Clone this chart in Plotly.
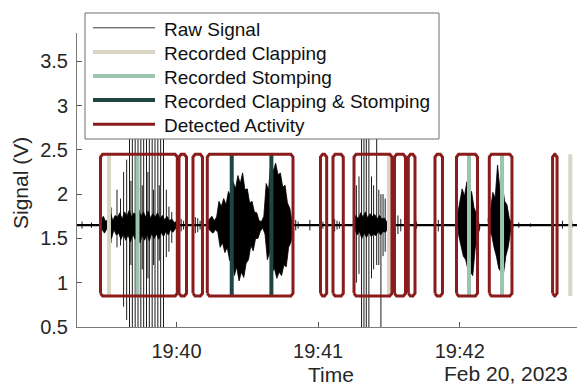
import pandas as pd
import plotly.graph_objects as go

# ---------------- data (seconds relative to 19:40:00 on Feb 20, 2023) ----------------
BASE = pd.Timestamp("2023-02-20 19:40:00")
x_range_s = [-42.14, 169.65]
y_range_v = [0.5, 3.82]
x_tick_s = [0, 60, 120]
x_tick_labels = ["19:40", "19:41", "19:42"]
y_tick_vals = [0.5, 1, 1.5, 2, 2.5, 3, 3.5]
y_tick_labels = ["0.5", "1", "1.5", "2", "2.5", "3", "3.5"]
date_label = "Feb 20, 2023"

baseline_v = 1.65

# detected activity windows
activity_start_s = [-32.19, 1.06, 6.99, 13.05, 61.0, 66.29, 75.19, 92.34, 98.19, 109.5, 118.6, 132.5, 159.3]
activity_end_s = [0.34, 4.24, 11.01, 49.35, 63.62, 70.65, 91.28, 97.0, 101.03, 112.67, 127.5, 142.1, 161.2]
activity_low_v = 0.85
activity_high_v = 2.45

# recorded (ground truth) events
clapping_s = [-28.6, 90.0, 166.8]
stomping_s = [-16.5, 123.9, 137.9]
clap_stomp_s = [23.4, 40.2]

# raw signal: dense envelopes sampled every second (upper / lower values, V)
coreA_start_s = -32
coreA_hi = [1.70, 1.75, 1.69, 1.72, 1.80, 1.70, 1.76, 1.74, 1.79, 1.72, 1.80, 1.75, 1.82, 1.74, 1.79, 1.76, 1.83,
            1.75, 1.80, 1.74, 1.81, 1.73, 1.78, 1.74, 1.79, 1.72, 1.76, 1.71, 1.75, 1.70, 1.72, 1.68, 1.69]
coreA_lo = [1.60, 1.56, 1.61, 1.58, 1.50, 1.60, 1.54, 1.56, 1.49, 1.55, 1.48, 1.54, 1.46, 1.55, 1.49, 1.53, 1.45,
            1.54, 1.48, 1.55, 1.47, 1.56, 1.50, 1.55, 1.49, 1.57, 1.52, 1.58, 1.54, 1.60, 1.57, 1.61, 1.62]

envB_start_s = 13
envB_hi = [1.69, 1.72, 1.75, 1.70, 1.74, 1.92, 1.86, 1.95, 1.88, 2.03, 1.98, 2.14, 2.06, 2.21, 2.12, 2.24, 2.05,
           2.06, 1.90, 1.92, 1.80, 1.79, 1.70, 1.69, 1.75, 2.12, 2.05, 2.38, 2.26, 2.35, 2.22, 2.24, 2.08, 2.10,
           1.90, 1.84, 1.70]
envB_lo = [1.61, 1.58, 1.56, 1.60, 1.57, 1.40, 1.45, 1.34, 1.40, 1.25, 1.33, 1.08, 1.18, 1.02, 1.12, 1.06, 1.22,
           1.26, 1.42, 1.36, 1.50, 1.50, 1.58, 1.62, 1.55, 1.26, 1.35, 1.12, 1.16, 1.05, 1.12, 1.08, 1.20, 1.18,
           1.40, 1.46, 1.60]

coreC_start_s = 75
coreC_hi = [1.70, 1.76, 1.72, 1.79, 1.74, 1.80, 1.73, 1.78, 1.75, 1.77, 1.72, 1.76, 1.72, 1.73, 1.69, 1.70, 1.68]
coreC_lo = [1.60, 1.54, 1.58, 1.50, 1.56, 1.51, 1.57, 1.52, 1.55, 1.53, 1.58, 1.54, 1.58, 1.57, 1.61, 1.60, 1.62]

envD_start_s = 119
envD_hi = [1.76, 1.90, 2.06, 1.98, 2.14, 2.02, 2.03, 1.85, 1.78, 1.68]
envD_lo = [1.54, 1.42, 1.30, 1.26, 1.14, 1.12, 1.08, 1.38, 1.52, 1.62]

envE_start_s = 132
envE_hi = [1.72, 1.82, 2.02, 1.96, 2.33, 2.05, 2.12, 1.92, 1.88, 1.72, 1.68]
envE_lo = [1.58, 1.54, 1.40, 1.30, 1.16, 1.12, 1.10, 1.30, 1.40, 1.58, 1.62]

# raw signal: individual spikes (time, upper, lower)
spike_s = [-27.7, -25.2, -23.7, -22.4, -21.1,
           -19.9, -19.3, -18.7, -17.5, -16.9, -16.3, -15.1, -14.5, -13.9, -12.7, -12.1, -11.5, -10.3, -9.7,
           -9.1, -7.9, -7.3, -6.7, -5.5, -4.3, -3.2, -2.0,
           76.2, 77.3, 78.4, 79.4, 80.4, 81.5, 82.6, 83.5, 84.8, 85.7, 86.6, 87.5, 88.4]
spike_hi = [1.85, 2.05, 1.95, 2.25, 2.39,
            3.3, 2.15, 3.3, 3.3, 2.20, 3.3, 3.3, 2.10, 3.3, 3.3, 2.25, 3.3, 3.3, 2.05,
            3.3, 3.3, 2.10, 3.3, 3.3, 2.05, 1.86, 1.80,
            2.10, 2.20, 3.3, 3.3, 3.3, 3.3, 2.20, 2.10, 3.3, 2.05, 2.00, 2.00, 1.95]
spike_lo = [1.45, 1.40, 1.42, 0.73, 0.58,
            0.2, 1.20, 0.2, 0.2, 1.10, 0.2, 0.2, 1.15, 0.2, 0.2, 1.05, 0.2, 0.2, 1.20,
            0.2, 0.2, 1.25, 0.2, 0.2, 1.29, 1.35, 1.45,
            1.00, 1.10, 0.2, 0.2, 0.2, 0.2, 1.05, 1.15, 1.20, 1.20, 0.2, 1.30, 1.35]

# raw signal: small blips on the baseline (time, upper, lower)
blip_s = [-40.0, -36.0, 2.0, 3.0, 8.0, 9.0, 10.0, 50.5, 51.5, 56.5, 62.0, 67.0, 68.0, 69.0,
          93.8, 95.0, 101.7, 110.9, 145.0, 150.0, 163.5, 167.5]
blip_hi = [1.69, 1.68, 1.72, 1.70, 1.74, 1.73, 1.70, 1.71, 1.69, 1.71, 1.69, 1.72, 1.70, 1.69,
           1.76, 1.72, 1.69, 1.71, 1.68, 1.67, 1.70, 1.69]
blip_lo = [1.61, 1.62, 1.58, 1.60, 1.56, 1.57, 1.60, 1.59, 1.61, 1.59, 1.61, 1.58, 1.60, 1.61,
           1.55, 1.58, 1.61, 1.58, 1.62, 1.63, 1.61, 1.62]

legend_names = ["Raw Signal", "Recorded Clapping", "Recorded Stomping",
                "Recorded Clapping &amp; Stomping", "Detected Activity"]

# ---------------- styles ----------------
FONT = "Liberation Sans, Arial, Helvetica, sans-serif"
TXT = "#262626"
C_RAW = "#000000"
C_CLAP = "#d9d6c6"
C_STOMP = "#9cc4ae"
C_BOTH = "#1f4543"
C_ACT = "#8a1c1c"
legend_colors = ["#3a3a3a", C_CLAP, C_STOMP, C_BOTH, C_ACT]
legend_widths = [1, 4, 4, 4, 3]
CORNER_S = 0.9     # corner softening of activity boxes (style, seconds)
CORNER_V = 0.03    # corner softening of activity boxes (style, volts)

W, H = 577, 385
ML, MR, MT, MB = 77, 0, 33, 58
PW, PH = W - ML - MR, H - MT - MB


def px_x(p):
    return (p - ML) / PW


def px_y(p):
    return (H - MB - p) / PH


def ts(sec):
    return (BASE + pd.Timedelta(seconds=float(sec))).strftime("%Y-%m-%d %H:%M:%S.%f")


def envelope(start, hi, lo, xs, ys):
    """closed outline: upper values forward in time, lower values backward"""
    n = len(hi)
    for i in range(n):
        xs.append(ts(start + i))
        ys.append(hi[i])
    for i in reversed(range(n)):
        xs.append(ts(start + i + 0.5))
        ys.append(lo[i])
    xs.append(ts(start))
    ys.append(hi[0])
    xs.append(None)
    ys.append(None)


def segments(times, hi, lo, xs, ys):
    for t, h, l in zip(times, hi, lo):
        xs += [ts(t), ts(t), None]
        ys += [l, h, None]


env_x, env_y = [], []
envelope(coreA_start_s, coreA_hi, coreA_lo, env_x, env_y)
envelope(envB_start_s, envB_hi, envB_lo, env_x, env_y)
envelope(coreC_start_s, coreC_hi, coreC_lo, env_x, env_y)
envelope(envD_start_s, envD_hi, envD_lo, env_x, env_y)
envelope(envE_start_s, envE_hi, envE_lo, env_x, env_y)

seg_x, seg_y = [], []
segments(spike_s, spike_hi, spike_lo, seg_x, seg_y)
segments(blip_s, blip_hi, blip_lo, seg_x, seg_y)

fig = go.Figure()

# raw signal: baseline, dense envelopes, spikes
fig.add_trace(go.Scatter(
    x=[ts(x_range_s[0] - 2), ts(x_range_s[1] + 5)], y=[baseline_v, baseline_v], mode="lines",
    line=dict(color=C_RAW, width=2.4), name=legend_names[0], legendgroup="raw", showlegend=False,
    hoverinfo="skip"))
fig.add_trace(go.Scatter(
    x=env_x, y=env_y, mode="lines", fill="toself", fillcolor=C_RAW, name=legend_names[0],
    legendgroup="raw", showlegend=False, line=dict(color=C_RAW, width=0.8), hoverinfo="skip"))
fig.add_trace(go.Scatter(
    x=seg_x, y=seg_y, mode="lines", name=legend_names[0], legendgroup="raw", showlegend=False,
    line=dict(color=C_RAW, width=0.9), hoverinfo="skip"))


def marker_trace(times, name, color):
    xs, ys = [], []
    for t in times:
        xs += [ts(t), ts(t), None]
        ys += [activity_low_v, activity_high_v, None]
    return go.Scatter(x=xs, y=ys, mode="lines", name=name, line=dict(color=color, width=4),
                      showlegend=False, hoverinfo="skip")


fig.add_trace(marker_trace(clapping_s, legend_names[1], C_CLAP))
fig.add_trace(marker_trace(stomping_s, legend_names[2], C_STOMP))
fig.add_trace(marker_trace(clap_stomp_s, legend_names[3], C_BOTH))

ax, ay = [], []
lo, hi = activity_low_v, activity_high_v
for s, e in zip(activity_start_s, activity_end_s):
    r = min(CORNER_S, (e - s) / 2)
    ax += [ts(s), ts(s), ts(s + r), ts(e - r), ts(e), ts(e), ts(e - r), ts(s + r), ts(s), None]
    ay += [lo + CORNER_V, hi - CORNER_V, hi, hi, hi - CORNER_V, lo + CORNER_V, lo, lo, lo + CORNER_V, None]
fig.add_trace(go.Scatter(x=ax, y=ay, mode="lines", name=legend_names[4], showlegend=False,
                         line=dict(color=C_ACT, width=3), hoverinfo="skip"))

# ---------------- legend box (drawn above the data, like an opaque legend) ----------------
shapes = [dict(type="rect", xref="paper", yref="paper", layer="above",
               x0=px_x(85), x1=px_x(439), y0=px_y(139), y1=px_y(13),
               fillcolor="white", line=dict(color="#6e6e6e", width=1))]
annotations = []
row_y = [27.8, 51.9, 76.0, 100.1, 124.2]
for name, col, lw, ry in zip(legend_names, legend_colors, legend_widths, row_y):
    shapes.append(dict(type="line", xref="paper", yref="paper", layer="above",
                       x0=px_x(93), x1=px_x(155), y0=px_y(ry), y1=px_y(ry),
                       line=dict(color=col, width=lw)))
    annotations.append(dict(text=name, xref="paper", yref="paper", x=px_x(162), y=px_y(ry + 1.5),
                            xanchor="left", yanchor="middle", showarrow=False,
                            font=dict(family=FONT, size=19, color="#111111")))

annotations += [
    dict(text="Signal (V)", xref="paper", yref="paper", x=px_x(20), y=px_y(183),
         textangle=-90, showarrow=False, font=dict(family=FONT, size=21, color=TXT),
         xanchor="center", yanchor="middle"),
    dict(text="Time", xref="paper", yref="paper", x=px_x(331), y=px_y(374),
         showarrow=False, font=dict(family=FONT, size=21, color=TXT),
         xanchor="center", yanchor="middle"),
    dict(text=date_label, xref="paper", yref="paper", x=px_x(505.5), y=px_y(373),
         showarrow=False, font=dict(family=FONT, size=21, color=TXT),
         xanchor="center", yanchor="middle"),
]

axis_common = dict(showline=True, linecolor="#7a7a7a", linewidth=1, showgrid=False, zeroline=False,
                   ticks="inside", ticklen=5, tickcolor="#555555", tickwidth=1,
                   tickfont=dict(family=FONT, size=20, color=TXT), mirror=False)

fig.update_layout(
    width=W, height=H,
    margin=dict(l=ML, r=MR, t=MT, b=MB, pad=0),
    paper_bgcolor="white", plot_bgcolor="white",
    font=dict(family=FONT, color=TXT),
    showlegend=False,
    xaxis=dict(type="date", range=[ts(x_range_s[0]), ts(x_range_s[1])],
               tickvals=[ts(t) for t in x_tick_s], ticktext=x_tick_labels,
               ticklabelstandoff=6, **axis_common),
    yaxis=dict(range=y_range_v, tickvals=y_tick_vals, ticktext=y_tick_labels,
               ticklabelstandoff=4, **axis_common),
    shapes=shapes,
    annotations=annotations,
)

fig.write_html("out.html")
